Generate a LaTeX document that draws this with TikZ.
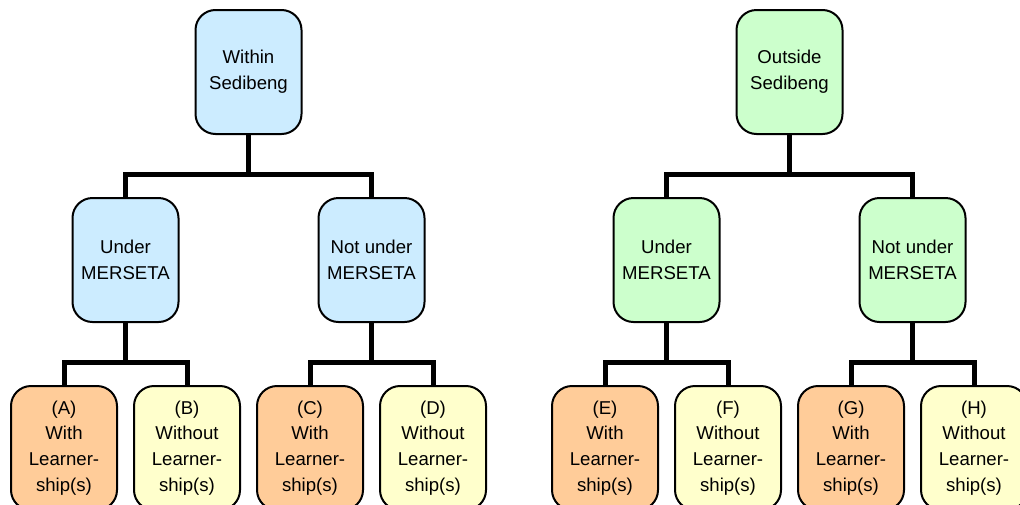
\documentclass[tikz,border=0pt]{standalone}
\usepackage{fontspec}
\setmainfont{Liberation Sans}
\usetikzlibrary{positioning}

\definecolor{inblue}{HTML}{CCECFF}
\definecolor{outgreen}{HTML}{CCFFCC}
\definecolor{withorange}{HTML}{FFCC99}
\definecolor{withoutyellow}{HTML}{FFFFCC}

\begin{document}
\begin{tikzpicture}[
			node distance=31pt,
			box/.style = {draw, rounded corners=10pt, line width=1pt, minimum width=53pt, minimum height=62pt, inner sep=0pt, align=center, font=\fontsize{9.3pt}{12.9pt}\selectfont},
			link/.style = {line width=2.5pt}
		]
		\clip (0,0) rectangle (510pt,-252pt);
		\node[box, fill=inblue] (w) at (124.25pt,-36pt) {Within\\Sedibeng};
		\node[box, fill=outgreen, right=216.5pt of w] (o) {Outside\\Sedibeng};
		% Level 1.
		\node[box, fill=inblue, below=of w, xshift=-61.5pt] (wu) {Under\\MERSETA};
		\node[box, fill=inblue, below=of w, xshift=61.5pt] (wn) {Not under\\MERSETA};
		\node[box, fill=outgreen, below=of o, xshift=-61.5pt] (ou) {Under\\MERSETA};
		\node[box, fill=outgreen, below=of o, xshift=61.5pt] (on) {Not under\\MERSETA};
		% Level 2.
		\node[box, fill=withorange, below=of wu, xshift=-30.75pt] (a) {(A)\\With\\Learner-\\ship(s)};
		\node[box, fill=withoutyellow, below=of wu, xshift=30.75pt] (b) {(B)\\Without\\Learner-\\ship(s)};
		\node[box, fill=withorange, below=of wn, xshift=-30.75pt] (c) {(C)\\With\\Learner-\\ship(s)};
		\node[box, fill=withoutyellow, below=of wn, xshift=30.75pt] (d) {(D)\\Without\\Learner-\\ship(s)};
		\node[box, fill=withorange, below=of ou, xshift=-30.75pt] (e) {(E)\\With\\Learner-\\ship(s)};
		\node[box, fill=withoutyellow, below=of ou, xshift=30.75pt] (f) {(F)\\Without\\Learner-\\ship(s)};
		\node[box, fill=withorange, below=of on, xshift=-30.75pt] (g) {(G)\\With\\Learner-\\ship(s)};
		\node[box, fill=withoutyellow, below=of on, xshift=30.75pt] (h) {(H)\\Without\\Learner-\\ship(s)};

		\draw[link] (w.south) -- ++(0,-19.5pt) -| (wu.north);
		\draw[link] (w.south) -- ++(0,-19.5pt) -| (wn.north);
		\draw[link] (o.south) -- ++(0,-19.5pt) -| (ou.north);
		\draw[link] (o.south) -- ++(0,-19.5pt) -| (on.north);
		\draw[link] (wu.south) -- ++(0,-19.5pt) -| (a.north);
		\draw[link] (wu.south) -- ++(0,-19.5pt) -| (b.north);
		\draw[link] (wn.south) -- ++(0,-19.5pt) -| (c.north);
		\draw[link] (wn.south) -- ++(0,-19.5pt) -| (d.north);
		\draw[link] (ou.south) -- ++(0,-19.5pt) -| (e.north);
		\draw[link] (ou.south) -- ++(0,-19.5pt) -| (f.north);
		\draw[link] (on.south) -- ++(0,-19.5pt) -| (g.north);
		\draw[link] (on.south) -- ++(0,-19.5pt) -| (h.north);
	\end{tikzpicture}
\end{document}
